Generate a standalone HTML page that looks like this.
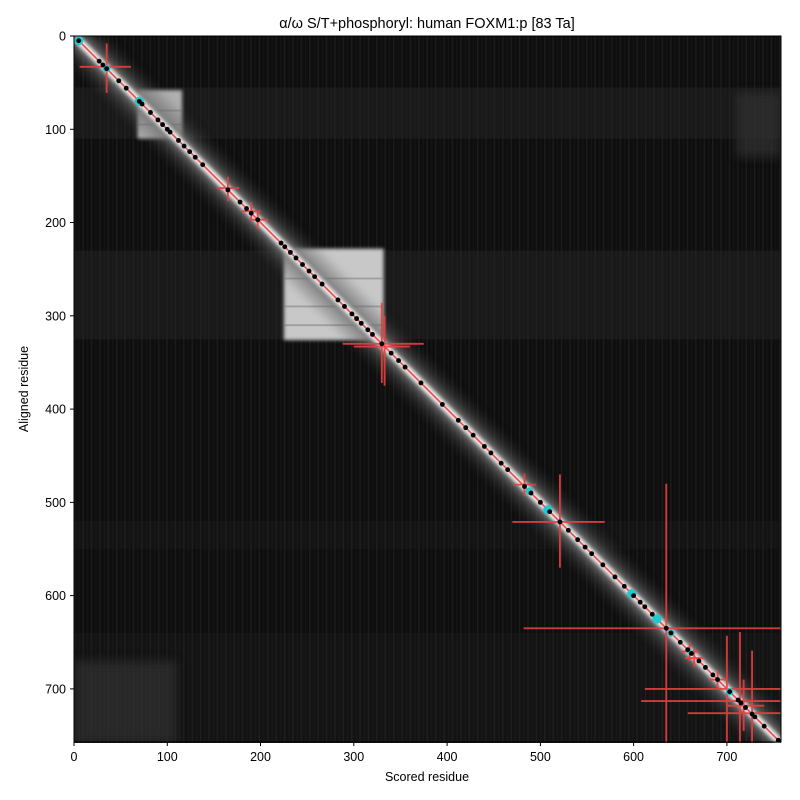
<!DOCTYPE html>
<html><head><meta charset="utf-8"><style>
body{margin:0;background:#fff}
svg{display:block;font-family:"Liberation Sans","DejaVu Sans",sans-serif}
</style></head><body>
<svg width="800" height="800" viewBox="0 0 800 800">
<defs>
<filter id="b1" x="-20%" y="-20%" width="140%" height="140%"><feGaussianBlur stdDeviation="5"/></filter>
<filter id="b2" x="-20%" y="-20%" width="140%" height="140%"><feGaussianBlur stdDeviation="2"/></filter>
<clipPath id="c"><rect x="0" y="0" width="758" height="758"/></clipPath>
<pattern id="vs" width="9" height="758" patternUnits="userSpaceOnUse">
<rect x="0" y="0" width="1.5" height="758" fill="#2a2a2a"/><rect x="5" y="0" width="1" height="758" fill="#1e1e1e"/>
</pattern>
</defs>
<text x="427" y="28" font-size="14.5" text-anchor="middle">α/ω S/T+phosphoryl: human FOXM1:p [83 Ta]</text>
<g transform="translate(74,36) scale(0.9327)">
<g clip-path="url(#c)">
<rect x="0" y="0" width="758" height="758" fill="#0e0e0e"/>
<rect x="0" y="0" width="758" height="758" fill="url(#vs)" opacity="0.5"/>
<g fill="#2a2a2a" opacity="0.45">
<rect x="0" y="55" width="758" height="55"/>
<rect x="0" y="230" width="758" height="95"/>
<rect x="0" y="520" width="758" height="30" opacity="0.5"/>
<rect x="0" y="640" width="758" height="118" opacity="0.5"/>
</g>
<g fill="#333" filter="url(#b1)" opacity="0.7">
<rect x="0" y="670" width="110" height="88"/>
<rect x="710" y="60" width="48" height="70"/>
</g>
<rect x="68" y="58" width="48" height="52" fill="#b0b0b0" filter="url(#b2)"/>
<rect x="225" y="228" width="107" height="98" fill="#c8c8c8" filter="url(#b2)"/>
<g stroke="#777" stroke-width="2" opacity="0.5">
<line x1="225" y1="260" x2="332" y2="260"/><line x1="225" y1="290" x2="332" y2="290"/><line x1="225" y1="310" x2="332" y2="310"/>
<line x1="68" y1="80" x2="116" y2="80"/><line x1="68" y1="95" x2="116" y2="95"/>
</g>
<polygon points="0,0 12,0 758,746 758,758 746,758 0,12" fill="#888" filter="url(#b1)"/>
<polygon points="0,0 30,0 758,728 758,758 728,758 0,30" fill="#555" filter="url(#b1)" opacity="0.35"/>
<line x1="0" y1="0" x2="758" y2="758" stroke="#eee" stroke-width="8" filter="url(#b2)"/>
<g stroke="#e84040" stroke-width="2" vector-effect="non-scaling-stroke" opacity="0.9">
<line x1="6" y1="33" x2="61" y2="33"/><line x1="35" y1="8" x2="35" y2="61"/>
<line x1="153" y1="163" x2="177" y2="163"/><line x1="165" y1="151" x2="165" y2="177"/>
<line x1="180" y1="188" x2="200" y2="188"/><line x1="190" y1="178" x2="190" y2="198"/>
<line x1="188" y1="197" x2="208" y2="197"/><line x1="197" y1="188" x2="197" y2="207"/>
<line x1="288" y1="330" x2="375" y2="330"/><line x1="330" y1="286" x2="330" y2="372"/>
<line x1="300" y1="333" x2="360" y2="333"/><line x1="333" y1="300" x2="333" y2="375"/>
<line x1="471" y1="481" x2="495" y2="481"/><line x1="483" y1="469" x2="483" y2="493"/>
<line x1="470" y1="521" x2="569" y2="521"/><line x1="521" y1="470" x2="521" y2="570"/>
<line x1="482" y1="635" x2="758" y2="635"/><line x1="635" y1="480" x2="635" y2="758"/>
<line x1="650" y1="660" x2="670" y2="660"/><line x1="660" y1="650" x2="660" y2="670"/>
<line x1="655" y1="667" x2="675" y2="667"/><line x1="665" y1="657" x2="665" y2="677"/>
<line x1="680" y1="690" x2="700" y2="690"/><line x1="690" y1="680" x2="690" y2="700"/>
<line x1="612" y1="700" x2="758" y2="700"/><line x1="700" y1="643" x2="700" y2="758"/>
<line x1="608" y1="713" x2="758" y2="713"/><line x1="714" y1="639" x2="714" y2="758"/>
<line x1="658" y1="726" x2="758" y2="726"/><line x1="727" y1="659" x2="727" y2="758"/>
<line x1="700" y1="718" x2="740" y2="718"/><line x1="718" y1="690" x2="718" y2="745"/>
</g>
<line x1="0" y1="0" x2="758" y2="758" stroke="#f04848" stroke-width="1.6" vector-effect="non-scaling-stroke"/>
<g fill="#22c8d0">
<circle cx="5" cy="5" r="5"/><circle cx="70" cy="70" r="5"/><circle cx="35" cy="35" r="4"/>
<circle cx="488" cy="488" r="4"/><circle cx="508" cy="508" r="5"/><circle cx="598" cy="598" r="5"/>
<circle cx="625" cy="625" r="5"/><circle cx="640" cy="640" r="4"/><circle cx="703" cy="703" r="4"/><circle cx="660" cy="660" r="3"/>
</g>
<g fill="#000">
<circle cx="5" cy="5" r="2.6"/><circle cx="27" cy="27" r="2.6"/><circle cx="31" cy="31" r="2.6"/><circle cx="35" cy="35" r="2.6"/>
<circle cx="48" cy="48" r="2.6"/><circle cx="56" cy="56" r="2.6"/><circle cx="70" cy="70" r="2.6"/><circle cx="73" cy="73" r="2.6"/>
<circle cx="82" cy="82" r="2.6"/><circle cx="90" cy="90" r="2.6"/><circle cx="95" cy="95" r="2.6"/><circle cx="100" cy="100" r="2.6"/><circle cx="103" cy="103" r="2.6"/>
<circle cx="112" cy="112" r="2.6"/><circle cx="118" cy="118" r="2.6"/><circle cx="124" cy="124" r="2.6"/><circle cx="130" cy="130" r="2.6"/><circle cx="138" cy="138" r="2.6"/>
<circle cx="165" cy="165" r="2.6"/><circle cx="178" cy="178" r="2.6"/><circle cx="185" cy="185" r="2.6"/><circle cx="190" cy="190" r="2.6"/><circle cx="197" cy="197" r="2.6"/>
<circle cx="222" cy="222" r="2.6"/><circle cx="226" cy="226" r="2.6"/><circle cx="232" cy="232" r="2.6"/><circle cx="238" cy="238" r="2.6"/><circle cx="245" cy="245" r="2.6"/><circle cx="252" cy="252" r="2.6"/>
<circle cx="258" cy="258" r="2.6"/><circle cx="266" cy="266" r="2.6"/><circle cx="283" cy="283" r="2.6"/><circle cx="290" cy="290" r="2.6"/><circle cx="298" cy="298" r="2.6"/>
<circle cx="303" cy="303" r="2.6"/><circle cx="308" cy="308" r="2.6"/><circle cx="315" cy="315" r="2.6"/><circle cx="320" cy="320" r="2.6"/><circle cx="330" cy="330" r="2.6"/>
<circle cx="340" cy="340" r="2.6"/><circle cx="348" cy="348" r="2.6"/><circle cx="355" cy="355" r="2.6"/><circle cx="372" cy="372" r="2.6"/>
<circle cx="395" cy="395" r="2.6"/><circle cx="412" cy="412" r="2.6"/><circle cx="420" cy="420" r="2.6"/><circle cx="428" cy="428" r="2.6"/><circle cx="440" cy="440" r="2.6"/><circle cx="447" cy="447" r="2.6"/>
<circle cx="458" cy="458" r="2.6"/><circle cx="465" cy="465" r="2.6"/><circle cx="483" cy="483" r="2.6"/><circle cx="490" cy="490" r="2.6"/><circle cx="500" cy="500" r="2.6"/><circle cx="510" cy="510" r="2.6"/>
<circle cx="521" cy="521" r="2.6"/><circle cx="530" cy="530" r="2.6"/><circle cx="540" cy="540" r="2.6"/><circle cx="548" cy="548" r="2.6"/><circle cx="555" cy="555" r="2.6"/><circle cx="567" cy="567" r="2.6"/>
<circle cx="580" cy="580" r="2.6"/><circle cx="590" cy="590" r="2.6"/><circle cx="600" cy="600" r="2.6"/><circle cx="607" cy="607" r="2.6"/><circle cx="612" cy="612" r="2.6"/><circle cx="620" cy="620" r="2.6"/>
<circle cx="635" cy="635" r="2.6"/><circle cx="640" cy="640" r="2.6"/><circle cx="650" cy="650" r="2.6"/><circle cx="658" cy="658" r="2.6"/><circle cx="662" cy="662" r="2.6"/><circle cx="670" cy="670" r="2.6"/>
<circle cx="677" cy="677" r="2.6"/><circle cx="685" cy="685" r="2.6"/><circle cx="690" cy="690" r="2.6"/><circle cx="703" cy="703" r="2.6"/><circle cx="712" cy="712" r="2.6"/><circle cx="715" cy="715" r="2.6"/>
<circle cx="720" cy="720" r="2.6"/><circle cx="727" cy="727" r="2.6"/><circle cx="730" cy="730" r="2.6"/><circle cx="740" cy="740" r="2.6"/><circle cx="755" cy="755" r="2.6"/>
</g>
</g>
</g>
<rect x="74" y="36" width="707" height="706" fill="none" stroke="#000" stroke-width="1"/>
<g stroke="#000" stroke-width="1">
<line x1="74" y1="742" x2="74" y2="746"/><line x1="167.3" y1="742" x2="167.3" y2="746"/><line x1="260.5" y1="742" x2="260.5" y2="746"/><line x1="353.8" y1="742" x2="353.8" y2="746"/><line x1="447.1" y1="742" x2="447.1" y2="746"/><line x1="540.4" y1="742" x2="540.4" y2="746"/><line x1="633.6" y1="742" x2="633.6" y2="746"/><line x1="726.9" y1="742" x2="726.9" y2="746"/>
<line x1="70" y1="36" x2="74" y2="36"/><line x1="70" y1="129.3" x2="74" y2="129.3"/><line x1="70" y1="222.5" x2="74" y2="222.5"/><line x1="70" y1="315.8" x2="74" y2="315.8"/><line x1="70" y1="409.1" x2="74" y2="409.1"/><line x1="70" y1="502.4" x2="74" y2="502.4"/><line x1="70" y1="595.6" x2="74" y2="595.6"/><line x1="70" y1="688.9" x2="74" y2="688.9"/>
</g>
<g font-size="12.5" text-anchor="middle">
<text x="74" y="761">0</text><text x="167.3" y="761">100</text><text x="260.5" y="761">200</text><text x="353.8" y="761">300</text><text x="447.1" y="761">400</text><text x="540.4" y="761">500</text><text x="633.6" y="761">600</text><text x="726.9" y="761">700</text>
</g>
<g font-size="12.5" text-anchor="end">
<text x="66" y="40.5">0</text><text x="66" y="133.8">100</text><text x="66" y="227">200</text><text x="66" y="320.3">300</text><text x="66" y="413.6">400</text><text x="66" y="506.9">500</text><text x="66" y="600.1">600</text><text x="66" y="693.4">700</text>
</g>
<text x="427" y="781" font-size="12.5" text-anchor="middle">Scored residue</text>
<text transform="translate(28,389) rotate(-90)" font-size="12.5" text-anchor="middle">Aligned residue</text>
</svg>
</body></html>
